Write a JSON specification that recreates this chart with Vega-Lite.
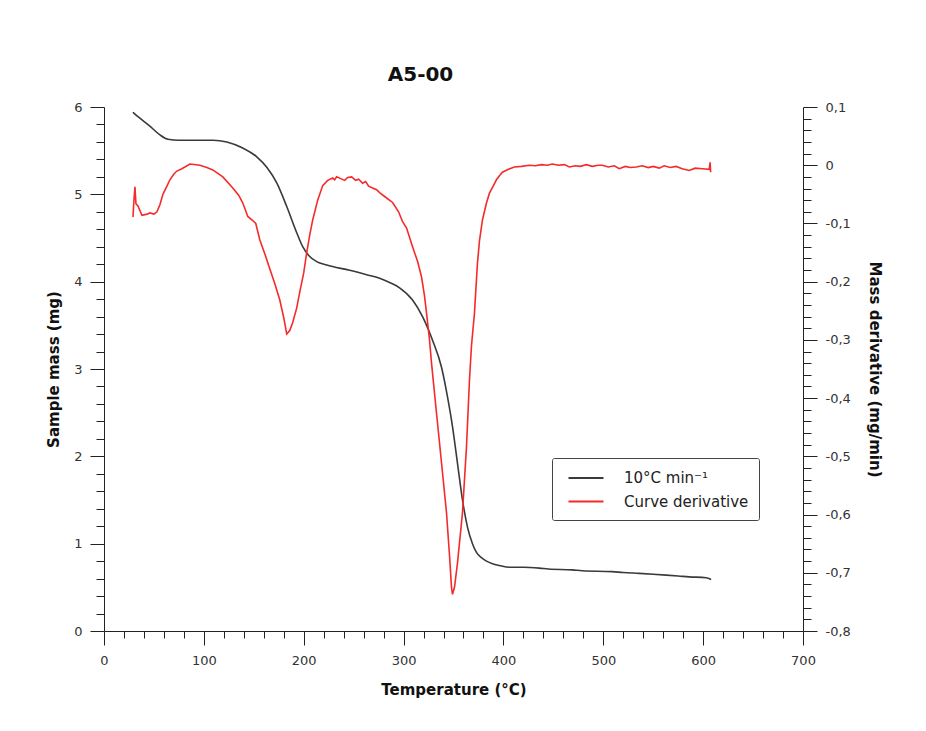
{
  "$schema": "https://vega.github.io/schema/vega-lite/v6.json",
  "autosize": "none",
  "width": 699,
  "height": 524,
  "padding": {"left": 104, "top": 107, "right": 123, "bottom": 100},
  "background": "white",
  "title": {
    "text": "A5-00",
    "font": "DejaVu Sans",
    "fontSize": 20,
    "fontWeight": "bold",
    "color": "#111",
    "anchor": "middle",
    "frame": "group",
    "dx": -33,
    "offset": 16
  },
  "config": {
    "view": {"stroke": null},
    "axis": {
      "grid": false,
      "labelFont": "DejaVu Sans",
      "labelFontSize": 13,
      "labelColor": "#333",
      "titleFont": "DejaVu Sans",
      "titleFontSize": 15,
      "titleFontWeight": "bold",
      "titleColor": "#111",
      "domainColor": "#222",
      "tickColor": "#222",
      "labelOverlap": false,
      "labelFlush": false,
      "labelBound": false
    }
  },
  "datasets": {
    "mass": [
      {"T": 29, "m": 5.94}, {"T": 35, "m": 5.88}, {"T": 45, "m": 5.79}, {"T": 56, "m": 5.68},
      {"T": 64, "m": 5.63}, {"T": 75, "m": 5.62}, {"T": 90, "m": 5.62}, {"T": 109, "m": 5.62},
      {"T": 123, "m": 5.6}, {"T": 139, "m": 5.53}, {"T": 153, "m": 5.43}, {"T": 163, "m": 5.31},
      {"T": 173, "m": 5.13}, {"T": 183, "m": 4.86}, {"T": 193, "m": 4.56}, {"T": 199, "m": 4.4},
      {"T": 205, "m": 4.3}, {"T": 213, "m": 4.23}, {"T": 223, "m": 4.19}, {"T": 246, "m": 4.13},
      {"T": 263, "m": 4.08}, {"T": 276, "m": 4.04}, {"T": 286, "m": 3.99}, {"T": 296, "m": 3.93},
      {"T": 309, "m": 3.79}, {"T": 319, "m": 3.6}, {"T": 329, "m": 3.33}, {"T": 338, "m": 3.02},
      {"T": 344, "m": 2.68}, {"T": 349, "m": 2.34}, {"T": 354, "m": 1.92}, {"T": 359, "m": 1.5},
      {"T": 364, "m": 1.19}, {"T": 369, "m": 1.0}, {"T": 373, "m": 0.9}, {"T": 378, "m": 0.84},
      {"T": 383, "m": 0.8}, {"T": 389, "m": 0.77}, {"T": 396, "m": 0.75}, {"T": 406, "m": 0.73},
      {"T": 420, "m": 0.73}, {"T": 436, "m": 0.72}, {"T": 445, "m": 0.71}, {"T": 469, "m": 0.7},
      {"T": 479, "m": 0.69}, {"T": 509, "m": 0.68}, {"T": 520, "m": 0.67}, {"T": 536, "m": 0.66},
      {"T": 550, "m": 0.65}, {"T": 563, "m": 0.64}, {"T": 575, "m": 0.63}, {"T": 586, "m": 0.62},
      {"T": 603, "m": 0.61}, {"T": 608, "m": 0.59}
    ],
    "deriv": [
      {"T": 29, "d": -0.089}, {"T": 30, "d": -0.06}, {"T": 31, "d": -0.037}, {"T": 32, "d": -0.066},
      {"T": 34, "d": -0.07}, {"T": 38, "d": -0.086}, {"T": 43, "d": -0.084}, {"T": 46, "d": -0.082},
      {"T": 50, "d": -0.084}, {"T": 53, "d": -0.08}, {"T": 56, "d": -0.068}, {"T": 59, "d": -0.05},
      {"T": 63, "d": -0.036}, {"T": 66, "d": -0.025}, {"T": 70, "d": -0.015}, {"T": 73, "d": -0.01},
      {"T": 78, "d": -0.006}, {"T": 86, "d": 0.002}, {"T": 96, "d": 0.0}, {"T": 103, "d": -0.004},
      {"T": 109, "d": -0.008}, {"T": 119, "d": -0.02}, {"T": 129, "d": -0.039}, {"T": 135, "d": -0.052},
      {"T": 139, "d": -0.065}, {"T": 144, "d": -0.088}, {"T": 149, "d": -0.095}, {"T": 152, "d": -0.1},
      {"T": 156, "d": -0.128}, {"T": 161, "d": -0.152}, {"T": 166, "d": -0.178}, {"T": 171, "d": -0.203},
      {"T": 176, "d": -0.231}, {"T": 180, "d": -0.262}, {"T": 183, "d": -0.29}, {"T": 186, "d": -0.284},
      {"T": 189, "d": -0.27}, {"T": 193, "d": -0.245}, {"T": 196, "d": -0.218}, {"T": 200, "d": -0.185},
      {"T": 203, "d": -0.15}, {"T": 206, "d": -0.12}, {"T": 209, "d": -0.094}, {"T": 214, "d": -0.06},
      {"T": 219, "d": -0.035}, {"T": 224, "d": -0.026}, {"T": 229, "d": -0.022}, {"T": 231, "d": -0.025},
      {"T": 233, "d": -0.02}, {"T": 237, "d": -0.023}, {"T": 241, "d": -0.026}, {"T": 244, "d": -0.021},
      {"T": 248, "d": -0.02}, {"T": 252, "d": -0.026}, {"T": 255, "d": -0.024}, {"T": 259, "d": -0.031},
      {"T": 262, "d": -0.028}, {"T": 265, "d": -0.036}, {"T": 269, "d": -0.039}, {"T": 273, "d": -0.042},
      {"T": 276, "d": -0.047}, {"T": 282, "d": -0.055}, {"T": 289, "d": -0.064}, {"T": 295, "d": -0.08},
      {"T": 299, "d": -0.097}, {"T": 303, "d": -0.108}, {"T": 309, "d": -0.14}, {"T": 314, "d": -0.165},
      {"T": 318, "d": -0.192}, {"T": 321, "d": -0.225}, {"T": 323, "d": -0.254}, {"T": 326, "d": -0.3},
      {"T": 328, "d": -0.34}, {"T": 333, "d": -0.426}, {"T": 338, "d": -0.511}, {"T": 343, "d": -0.597},
      {"T": 346, "d": -0.67}, {"T": 348, "d": -0.725}, {"T": 349, "d": -0.737}, {"T": 351, "d": -0.725},
      {"T": 354, "d": -0.683}, {"T": 359, "d": -0.597}, {"T": 361, "d": -0.54}, {"T": 363, "d": -0.484},
      {"T": 366, "d": -0.369}, {"T": 368, "d": -0.31}, {"T": 371, "d": -0.254}, {"T": 374, "d": -0.168},
      {"T": 376, "d": -0.13}, {"T": 379, "d": -0.094}, {"T": 383, "d": -0.065}, {"T": 386, "d": -0.048},
      {"T": 390, "d": -0.035}, {"T": 393, "d": -0.025}, {"T": 396, "d": -0.018}, {"T": 399, "d": -0.012},
      {"T": 405, "d": -0.007}, {"T": 411, "d": -0.003}, {"T": 418, "d": -0.002}, {"T": 426, "d": 0.0},
      {"T": 432, "d": -0.001}, {"T": 438, "d": 0.001}, {"T": 444, "d": 0.0}, {"T": 449, "d": 0.002},
      {"T": 455, "d": 0.0}, {"T": 461, "d": 0.001}, {"T": 466, "d": -0.003}, {"T": 472, "d": -0.001},
      {"T": 477, "d": -0.002}, {"T": 483, "d": 0.001}, {"T": 489, "d": -0.002}, {"T": 495, "d": 0.0},
      {"T": 499, "d": 0.0}, {"T": 505, "d": -0.003}, {"T": 511, "d": -0.001}, {"T": 516, "d": -0.006},
      {"T": 522, "d": -0.002}, {"T": 527, "d": -0.004}, {"T": 533, "d": -0.003}, {"T": 539, "d": -0.001},
      {"T": 545, "d": -0.004}, {"T": 550, "d": -0.002}, {"T": 556, "d": -0.005}, {"T": 561, "d": -0.001},
      {"T": 567, "d": -0.004}, {"T": 573, "d": -0.002}, {"T": 579, "d": -0.006}, {"T": 586, "d": -0.009},
      {"T": 592, "d": -0.005}, {"T": 599, "d": -0.006}, {"T": 606, "d": -0.007}, {"T": 607, "d": 0.005},
      {"T": 607.5, "d": -0.012}
    ]
  },
  "layer": [
    {
      "data": {"name": "mass"},
      "mark": {"type": "line", "strokeWidth": 1.6, "interpolate": "monotone"},
      "encoding": {
        "x": {
          "field": "T", "type": "quantitative",
          "scale": {"domain": [0, 700], "nice": false},
          "axis": {
            "title": "Temperature (°C)",
            "values": [0,20,40,60,80,100,120,140,160,180,200,220,240,260,280,300,320,340,360,380,400,420,440,460,480,500,520,540,560,580,600,620,640,660,680,700],
            "labelExpr": "datum.value % 100 === 0 ? '' + datum.value : ''",
            "tickSize": {"condition": {"test": "datum.value % 100 === 0", "value": 14}, "value": 7},
            "labelPadding": 9,
            "titlePadding": 15
          }
        },
        "y": {
          "field": "m", "type": "quantitative",
          "scale": {"domain": [0, 6], "nice": false, "zero": false},
          "axis": {
            "title": "Sample mass (mg)",
            "orient": "left",
            "values": [0,0.2,0.4,0.6,0.8,1,1.2,1.4,1.6,1.8,2,2.2,2.4,2.6,2.8,3,3.2,3.4,3.6,3.8,4,4.2,4.4,4.6,4.8,5,5.2,5.4,5.6,5.8,6],
            "labelExpr": "abs(datum.value - round(datum.value)) < 0.001 ? '' + round(datum.value) : ''",
            "tickSize": {"condition": {"test": "abs(datum.value - round(datum.value)) < 0.001", "value": 14}, "value": 8},
            "labelPadding": 8,
            "titlePadding": 12
          }
        },
        "color": {
          "datum": "10°C min⁻¹",
          "type": "nominal",
          "scale": {"domain": ["10°C min⁻¹", "Curve derivative"], "range": ["#3a3a3a", "#f52a2a"]},
          "legend": {
            "title": null,
            "orient": "none",
            "legendX": 448,
            "legendY": 351,
            "strokeColor": "#444",
            "cornerRadius": 2,
            "padding": 10,
            "symbolType": "M-0.4,0H3.6",
            "symbolSize": 306,
            "symbolStrokeWidth": 2,
            "symbolFillColor": "transparent",
            "labelFont": "DejaVu Sans",
            "labelFontSize": 15,
            "labelColor": "#222",
            "labelOffset": 42,
            "rowPadding": 5.5
          }
        }
      }
    },
    {
      "data": {"name": "deriv"},
      "mark": {"type": "line", "strokeWidth": 1.6},
      "encoding": {
        "x": {
          "field": "T", "type": "quantitative",
          "scale": {"domain": [0, 700], "nice": false},
          "axis": {
            "title": "Temperature (°C)",
            "values": [0,20,40,60,80,100,120,140,160,180,200,220,240,260,280,300,320,340,360,380,400,420,440,460,480,500,520,540,560,580,600,620,640,660,680,700],
            "labelExpr": "datum.value % 100 === 0 ? '' + datum.value : ''",
            "tickSize": {"condition": {"test": "datum.value % 100 === 0", "value": 14}, "value": 7},
            "labelPadding": 9,
            "titlePadding": 15
          }
        },
        "y": {
          "field": "d", "type": "quantitative",
          "scale": {"domain": [-0.8, 0.1], "nice": false, "zero": false},
          "axis": {
            "title": "Mass derivative (mg/min)",
            "orient": "right",
            "values": [-0.8,-0.78,-0.76,-0.74,-0.72,-0.7,-0.68,-0.66,-0.64,-0.62,-0.6,-0.58,-0.56,-0.54,-0.52,-0.5,-0.48,-0.46,-0.44,-0.42,-0.4,-0.38,-0.36,-0.34,-0.32,-0.3,-0.28,-0.26,-0.24,-0.22,-0.2,-0.18,-0.16,-0.14,-0.12,-0.1,-0.08,-0.06,-0.04,-0.02,0,0.02,0.04,0.06,0.08,0.1],
            "labelExpr": "abs(datum.value*10 - round(datum.value*10)) < 0.001 ? (abs(datum.value) < 0.001 ? '0' : (datum.value < 0 ? '-' : '') + '0,' + round(abs(datum.value)*10)) : ''",
            "tickSize": {"condition": {"test": "abs(datum.value*10 - round(datum.value*10)) < 0.001", "value": 14}, "value": 8},
            "labelPadding": 8,
            "titlePadding": 16
          }
        },
        "order": {"value": null},
        "color": {"datum": "Curve derivative", "type": "nominal"}
      }
    }
  ],
  "resolve": {"scale": {"y": "independent"}}
}
